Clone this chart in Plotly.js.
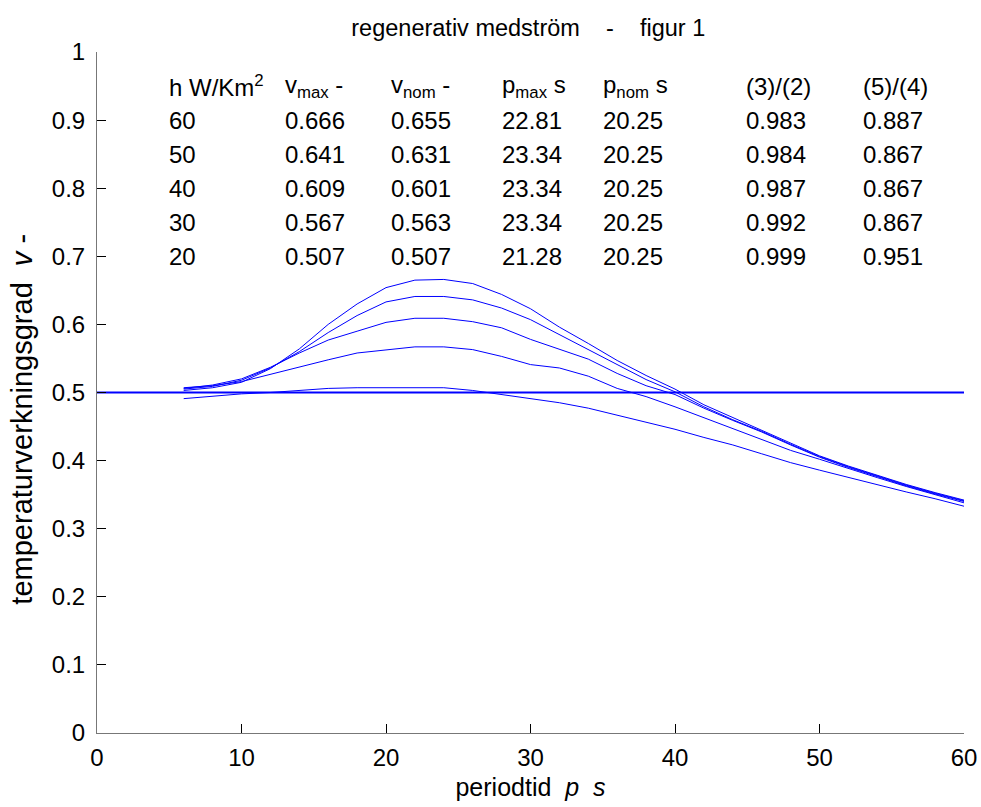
<!DOCTYPE html>
<html>
<head>
<meta charset="utf-8">
<script src="https://cdn.plot.ly/plotly-3.0.1.min.js"></script>
<style>html,body{margin:0;padding:0;background:#fff;}#chart{width:981px;height:807px;}</style>
</head>
<body>
<div id="chart"></div>
<script>
// ---- data ----
const periodtid = [6,8,10,12,14,16,18,20,22,24,26,28,30,32,34,36,38,40,42,44,46,48,50,52,54,56,58,60];
const v_h60 = [0.503,0.507,0.515,0.535,0.564,0.600,0.630,0.654,0.665,0.666,0.660,0.644,0.623,0.596,0.572,0.547,0.525,0.505,0.482,0.463,0.445,0.425,0.407,0.392,0.378,0.365,0.353,0.342];
const v_h50 = [0.505,0.509,0.518,0.536,0.560,0.588,0.613,0.633,0.641,0.641,0.636,0.624,0.607,0.585,0.563,0.540,0.519,0.501,0.479,0.460,0.443,0.424,0.406,0.391,0.377,0.364,0.352,0.341];
const v_h40 = [0.506,0.511,0.520,0.537,0.558,0.577,0.590,0.603,0.609,0.609,0.604,0.595,0.578,0.563,0.549,0.528,0.510,0.497,0.477,0.459,0.442,0.423,0.405,0.390,0.376,0.363,0.351,0.340];
const v_h30 = [0.507,0.510,0.516,0.527,0.537,0.548,0.558,0.563,0.567,0.567,0.563,0.553,0.541,0.536,0.524,0.506,0.494,0.479,0.463,0.446,0.430,0.415,0.402,0.388,0.375,0.362,0.350,0.338];
const v_h20 = [0.491,0.495,0.498,0.500,0.503,0.506,0.507,0.507,0.507,0.507,0.503,0.497,0.492,0.485,0.477,0.467,0.457,0.446,0.434,0.423,0.410,0.397,0.386,0.375,0.364,0.354,0.344,0.333];
const refX = [0, 60];
const refV = [0.5, 0.5];

// table in the plot
const tableHeaders = ["h W/Km<sup>2</sup>", "v<sub>max</sub> -", "v<sub>nom</sub> -", "p<sub>max</sub> s", "p<sub>nom</sub> s", "(3)/(2)", "(5)/(4)"];
const hVals  = [60, 50, 40, 30, 20];
const vMax   = [0.666, 0.641, 0.609, 0.567, 0.507];
const vNom   = [0.655, 0.631, 0.601, 0.563, 0.507];
const pMax   = [22.81, 23.34, 23.34, 23.34, 21.28];
const pNom   = [20.25, 20.25, 20.25, 20.25, 20.25];
const ratio32 = [0.983, 0.984, 0.987, 0.992, 0.999];
const ratio54 = [0.887, 0.867, 0.867, 0.867, 0.951];

const xTicks = [0, 10, 20, 30, 40, 50, 60];

// ---- layout constants ----
const FONT = "Liberation Sans, Arial, Helvetica, sans-serif";
const colX = [4.85, 12.9, 20.2, 27.9, 34.9, 44.8, 52.9];
const headerY = 0.95, rowY0 = 0.9, rowStep = 0.05;
const S = '\u00a0';

const curveSets = [v_h60, v_h50, v_h40, v_h30, v_h20];
const traces = curveSets.map(v => ({
  x: periodtid, y: v, type: 'scatter', mode: 'lines',
  line: {color: '#0000ff', width: 1}, hoverinfo: 'skip'
}));
traces.push({x: refX, y: refV, type: 'scatter', mode: 'lines',
  line: {color: '#0000ff', width: 2}, hoverinfo: 'skip'});

const columns = [
  hVals.map(v => String(v)),
  vMax.map(v => v.toFixed(3)),
  vNom.map(v => v.toFixed(3)),
  pMax.map(v => v.toFixed(2)),
  pNom.map(v => v.toFixed(2)),
  ratio32.map(v => v.toFixed(3)),
  ratio54.map(v => v.toFixed(3))
];

const annotations = [];
tableHeaders.forEach((h, c) => {
  annotations.push({x: colX[c], y: headerY, xref: 'x', yref: 'y', text: h, showarrow: false,
    xanchor: 'left', yanchor: 'middle', font: {family: FONT, size: 24, color: '#000'}});
  columns[c].forEach((t, r) => {
    annotations.push({x: colX[c], y: rowY0 - r * rowStep, xref: 'x', yref: 'y', text: t, showarrow: false,
      xanchor: 'left', yanchor: 'middle', font: {family: FONT, size: 24, color: '#000'}});
  });
});
// y-axis title (placed as a rotated annotation to match the reference position)
annotations.push({xref: 'paper', yref: 'paper', x: -0.087, y: 0.461, xanchor: 'center', yanchor: 'middle',
  textangle: -90, showarrow: false,
  text: 'temperaturverkningsgrad' + S.repeat(2) + '<i>v</i>' + S + '-',
  font: {family: FONT, size: 29, color: '#000'}});

const layout = {
  width: 981, height: 807,
  margin: {l: 97, r: 17, t: 52, b: 74, pad: 0},
  paper_bgcolor: '#fff', plot_bgcolor: '#fff',
  showlegend: false,
  font: {family: FONT, size: 24, color: '#000'},
  title: {text: 'regenerativ medström' + S.repeat(4) + '-' + S.repeat(4) + 'figur 1',
    font: {family: FONT, size: 23.5, color: '#000'},
    x: 0.5385, xanchor: 'center', y: 0.966, yanchor: 'middle', yref: 'container'},
  xaxis: {
    range: [0, 60], tickvals: xTicks, ticktext: xTicks.map(String),
    ticks: 'inside', ticklen: 9, tickcolor: '#000', tickwidth: 1,
    showline: true, linecolor: '#777', linewidth: 1,
    showgrid: false, zeroline: false, automargin: false,
    ticklabelstandoff: 3,
    tickfont: {family: FONT, size: 24, color: '#000'},
    title: {text: 'periodtid' + S.repeat(2) + '<i>p' + S.repeat(2) + 's</i>', font: {family: FONT, size: 25, color: '#000'}, standoff: 8}
  },
  yaxis: {
    range: [0, 1], dtick: 0.1, tick0: 0,
    ticks: 'inside', ticklen: 9, tickcolor: '#000', tickwidth: 1,
    showline: true, linecolor: '#777', linewidth: 1,
    showgrid: false, zeroline: false, automargin: false,
    ticklabelstandoff: 6,
    tickfont: {family: FONT, size: 24, color: '#000'}
  },
  annotations: annotations
};

Plotly.newPlot('chart', traces, layout, {displayModeBar: false, staticPlot: true});
</script>
</body>
</html>
